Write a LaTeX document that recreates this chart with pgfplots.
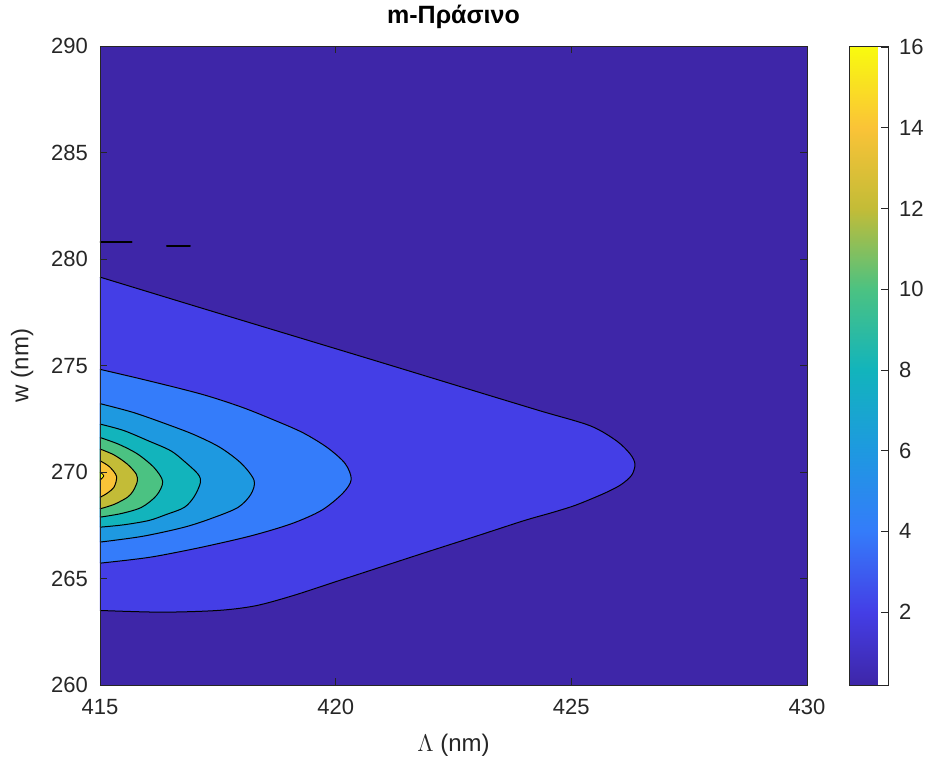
\documentclass[border=0pt]{standalone}
\usepackage{pgfplots}
\pgfplotsset{compat=1.18}
\usepackage{fontspec}
\setmainfont{Liberation Sans}
\definecolor{c0}{RGB}{62,38,168}
\definecolor{c2}{RGB}{68,62,230}
\definecolor{c4}{RGB}{52,124,250}
\definecolor{c6}{RGB}{30,153,224}
\definecolor{c8}{RGB}{18,180,188}
\definecolor{c10}{RGB}{75,194,130}
\definecolor{c12}{RGB}{195,188,55}
\definecolor{c14}{RGB}{250,195,55}
\definecolor{c16}{RGB}{249,251,14}
\definecolor{axgray}{RGB}{38,38,38}
\begin{document}
\begin{tikzpicture}
\useasboundingbox (-50pt,-41pt) rectangle (412.5pt,342.5pt);
\begin{axis}[
  at={(0,0)}, anchor=south west,
  scale only axis, width=353.5pt, height=319.5pt,
  xmin=415, xmax=430, ymin=260, ymax=290,
  xtick={415,420,425,430}, ytick={260,265,270,275,280,285,290},
  tick align=inside, major tick length=3.5pt,
  axis line style={axgray, line width=0.4pt},
  tick style={axgray, line width=0.4pt},
  ticklabel style={font=\fontsize{11}{13}\selectfont, text=axgray},
  /pgf/number format/assume math mode=true,
  xticklabel shift=3.5pt, yticklabel shift=2.5pt,
  axis on top,
  axis background/.style={fill=c0},
  title={\textbf{m-Πράσινο}},
  title style={font=\fontsize{12.5}{14}\selectfont, at={(axis description cs:0.5,1.027)}, anchor=center},
  xlabel={$\Lambda$ (nm)}, ylabel={w (nm)},
  every axis x label/.style={at={(axis description cs:0.5,-0.094)}, anchor=center, font=\fontsize{12}{14}\selectfont, text=axgray},
  every axis y label/.style={at={(axis description cs:-0.110,0.5)}, anchor=center, rotate=90, font=\fontsize{12}{14}\selectfont, text=axgray},
  colormap={parula}{rgb255(0pt)=(62,38,168) rgb255(114pt)=(68,62,230) rgb255(241pt)=(52,124,250) rgb255(367pt)=(30,153,224) rgb255(493pt)=(18,180,188) rgb255(619pt)=(75,194,130) rgb255(746pt)=(195,188,55) rgb255(872pt)=(250,195,55) rgb255(1000pt)=(249,251,14)},
  point meta min=0.19, point meta max=16.03,
  colorbar,
  colorbar style={
    at={(1.0594,1)}, anchor=north west,
    scale only axis, width=19.5pt, height=319.5pt,
    ytick={2,4,6,8,10,12,14,16},
    yticklabel pos=right, ytick pos=right,
    tick align=inside, major tick length=3.5pt,
    axis line style={axgray, line width=0.4pt},
    tick style={axgray, line width=0.4pt},
    yticklabel style={font=\fontsize{11}{13}\selectfont, text=axgray},
    /pgf/number format/assume math mode=true,
    yticklabel shift=2pt,
  },
]
\addplot[fill=c2, draw=black, line width=0.5pt, smooth] coordinates {
(415,279.15) (417,277.8) (419,276.46) (421,275.12) (423,273.77) (424.34,272.87) (425.4,272.17) (425.96,271.46) (426.25,270.84) (426.35,270.37) (426.28,269.85) (426.05,269.4) (425.7,269.0) (425.1,268.45) (424.6,268.1) (424,267.72) (423,267.0) (422,266.29) (421,265.57) (420,264.85) (419.1,264.2) (418.3,263.72) (417.5,263.5) (416.3,263.42) (415,263.5)};
\addplot[fill=c4, draw=black, line width=0.5pt, smooth] coordinates {
(415,274.82) (416,274.3) (417.16,273.65) (418.0,273.05) (418.68,272.45) (419.3,271.85) (419.82,271.15) (420.2,270.4) (420.33,269.65) (420.15,269.0) (419.7,268.2) (419.06,267.57) (418.2,267.0) (417.16,266.47) (416.2,266.05) (415.65,265.88) (415,265.72)};
\addplot[fill=c6, draw=black, line width=0.5pt, smooth] coordinates {
(415,273.21) (415.7,272.8) (416.41,272.25) (417.0,271.75) (417.55,271.15) (418.0,270.4) (418.27,269.6) (418.2,268.95) (417.93,268.34) (417.4,267.85) (416.79,267.41) (415.9,266.98) (415,266.71)};
\addplot[fill=c8, draw=black, line width=0.5pt, smooth] coordinates {
(415,272.25) (415.5,271.95) (416.03,271.46) (416.5,271.0) (416.79,270.5) (417.08,269.9) (417.13,269.5) (417.0,268.85) (416.79,268.34) (416.4,268.0) (416.03,267.72) (415.5,267.52) (415,267.41)};
\addplot[fill=c10, draw=black, line width=0.5pt, smooth] coordinates {
(415,271.62) (415.4,271.3) (415.8,270.84) (416.15,270.2) (416.33,269.55) (416.2,268.9) (415.88,268.34) (415.45,268.05) (415,267.88)};
\addplot[fill=c12, draw=black, line width=0.5pt, smooth] coordinates {
(415,271.08) (415.3,270.8) (415.58,270.37) (415.77,269.9) (415.79,269.55) (415.7,269.1) (415.58,268.81) (415.3,268.48) (415,268.27)};
\addplot[fill=c14, draw=black, line width=0.5pt, smooth] coordinates {
(415,270.53) (415.2,270.25) (415.35,269.8) (415.3,269.3) (415.15,269.0) (415,268.81)};
\addplot[fill=c16, draw=black, line width=0.4pt, smooth] coordinates {
(415,270.0) (415.08,269.82) (415,269.62)};
\addplot[black, line width=1.1pt, line cap=round] coordinates {(415,280.8) (415.67,280.8)};
\addplot[black, line width=0.9pt, line cap=round] coordinates {(416.42,280.62) (416.91,280.62)};
\end{axis}
\end{tikzpicture}
\end{document}
